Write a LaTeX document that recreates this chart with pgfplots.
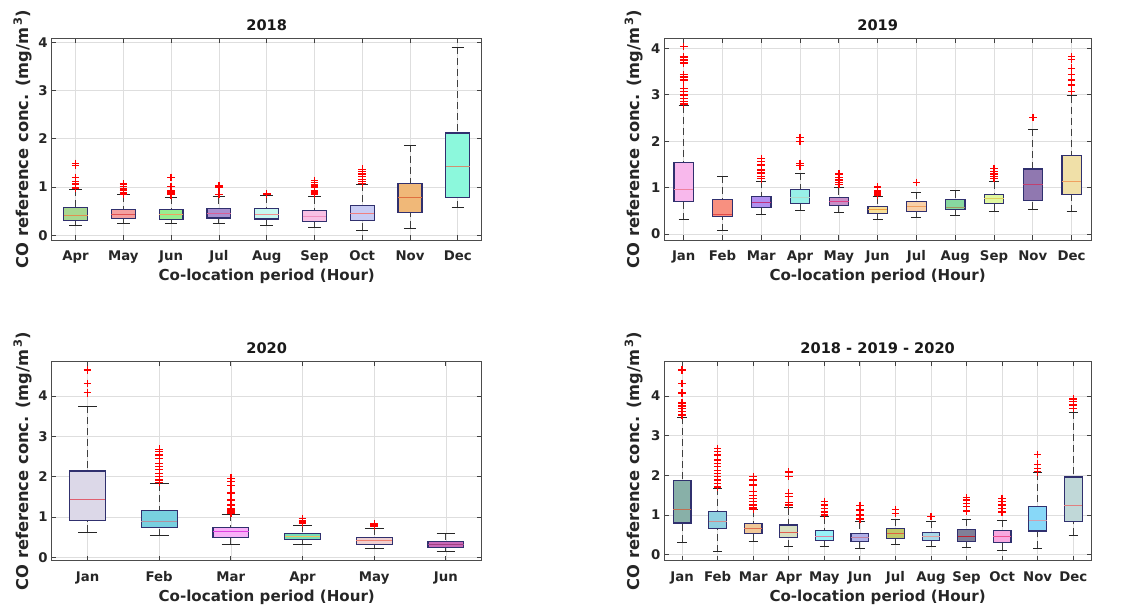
\documentclass[border=0pt]{standalone}
\usepackage{pgfplots}
\pgfplotsset{compat=1.18}
\usepgfplotslibrary{statistics}
\usepackage{fontspec}
\setmainfont{DejaVu Sans}
% 2018
\definecolor{aF1}{HTML}{A8D890}\definecolor{aM1}{HTML}{E09050}
\definecolor{aF2}{HTML}{F4A0A0}\definecolor{aM2}{HTML}{E05050}
\definecolor{aF3}{HTML}{98EC90}\definecolor{aM3}{HTML}{F0A060}
\definecolor{aF4}{HTML}{A890D0}\definecolor{aM4}{HTML}{D86098}
\definecolor{aF5}{HTML}{C8F8F0}\definecolor{aM5}{HTML}{F09090}
\definecolor{aF6}{HTML}{F8C0E4}\definecolor{aM6}{HTML}{F090C0}
\definecolor{aF7}{HTML}{C8CCF4}\definecolor{aM7}{HTML}{F08080}
\definecolor{aF8}{HTML}{F0B878}\definecolor{aM8}{HTML}{E07040}
\definecolor{aF9}{HTML}{8CF8DC}\definecolor{aM9}{HTML}{D09070}
% 2019
\definecolor{bF1}{HTML}{F8B8EC}\definecolor{bM1}{HTML}{F080A0}
\definecolor{bF2}{HTML}{F89080}\definecolor{bM2}{HTML}{E04848}
\definecolor{bF3}{HTML}{B090F0}\definecolor{bM3}{HTML}{C03080}
\definecolor{bF4}{HTML}{98F0E8}\definecolor{bM4}{HTML}{B0D8C8}
\definecolor{bF5}{HTML}{C890C8}\definecolor{bM5}{HTML}{E04088}
\definecolor{bF6}{HTML}{F8E098}\definecolor{bM6}{HTML}{F0A040}
\definecolor{bF7}{HTML}{F8D0A8}\definecolor{bM7}{HTML}{F0A060}
\definecolor{bF8}{HTML}{88D8A0}\definecolor{bM8}{HTML}{A09860}
\definecolor{bF9}{HTML}{E0F8A0}\definecolor{bM9}{HTML}{E0D060}
\definecolor{bF10}{HTML}{9078B0}\definecolor{bM10}{HTML}{C04070}
\definecolor{bF11}{HTML}{F0E0A8}\definecolor{bM11}{HTML}{F0A060}
% 2020
\definecolor{cF1}{HTML}{DCD8E8}\definecolor{cM1}{HTML}{E06070}
\definecolor{cF2}{HTML}{78D0E0}\definecolor{cM2}{HTML}{B090A0}
\definecolor{cF3}{HTML}{F8B0F8}\definecolor{cM3}{HTML}{E040E0}
\definecolor{cF4}{HTML}{78E0B8}\definecolor{cM4}{HTML}{F0C060}
\definecolor{cF5}{HTML}{F0D0D0}\definecolor{cM5}{HTML}{F08070}
\definecolor{cF6}{HTML}{C868B8}\definecolor{cM6}{HTML}{A04080}
% all
\definecolor{dF1}{HTML}{88B0A8}\definecolor{dM1}{HTML}{C07050}
\definecolor{dF2}{HTML}{90D0E0}\definecolor{dM2}{HTML}{D09090}
\definecolor{dF3}{HTML}{F0C898}\definecolor{dM3}{HTML}{E07050}
\definecolor{dF4}{HTML}{D8E0C0}\definecolor{dM4}{HTML}{E06050}
\definecolor{dF5}{HTML}{98F0F8}\definecolor{dM5}{HTML}{E080A0}
\definecolor{dF6}{HTML}{B0B0E8}\definecolor{dM6}{HTML}{C080A0}
\definecolor{dF7}{HTML}{C0C868}\definecolor{dM7}{HTML}{E06040}
\definecolor{dF8}{HTML}{A8D8E8}\definecolor{dM8}{HTML}{E0A0A0}
\definecolor{dF9}{HTML}{808098}\definecolor{dM9}{HTML}{C02030}
\definecolor{dF10}{HTML}{F8A8E0}\definecolor{dM10}{HTML}{F05090}
\definecolor{dF11}{HTML}{88D8F8}\definecolor{dM11}{HTML}{D0A0B0}
\definecolor{dF12}{HTML}{C0D8D8}\definecolor{dM12}{HTML}{E08080}
\definecolor{boxedge}{HTML}{30306E}
\definecolor{txt}{HTML}{262626}
\definecolor{wsk}{HTML}{404040}
\definecolor{outl}{HTML}{FF0000}

\pgfplotsset{
  bx/.style 2 args={
    solid, no marks,
    boxplot/draw direction=y,
    boxplot/box extend=0.5, boxplot/whisker extend=0.26,
    boxplot/every box/.style={draw=boxedge, line width=1.2bp, fill=#1, solid},
    boxplot/every median/.style={draw=#2, line width=0.9bp, solid},
    boxplot/draw/lower whisker/.code={%
      \draw[wsk, line width=0.9bp, dash pattern=on 7bp off 4bp]
        (boxplot box cs:\pgfplotsboxplotvalue{lower whisker},0.5) --
        (boxplot box cs:\pgfplotsboxplotvalue{lower quartile},0.5);
      \draw[black!85, line width=0.9bp, solid]
        (boxplot whisker cs:\pgfplotsboxplotvalue{lower whisker},0) --
        (boxplot whisker cs:\pgfplotsboxplotvalue{lower whisker},1);
    },
    boxplot/draw/upper whisker/.code={%
      \draw[wsk, line width=0.9bp, dash pattern=on 7bp off 4bp]
        (boxplot box cs:\pgfplotsboxplotvalue{upper whisker},0.5) --
        (boxplot box cs:\pgfplotsboxplotvalue{upper quartile},0.5);
      \draw[black!85, line width=0.9bp, solid]
        (boxplot whisker cs:\pgfplotsboxplotvalue{upper whisker},0) --
        (boxplot whisker cs:\pgfplotsboxplotvalue{upper whisker},1);
    },
  },
  ol/.style={only marks, mark=+, mark size=3.8bp, draw=outl, color=outl,
    mark options={draw=outl, solid, line width=1.4bp}},
  panel/.style={
    scale only axis, anchor=north west,
    /pgf/number format/assume math mode=true,
    grid=major, major grid style={draw=black!13, line width=0.7bp},
    axis line style={draw=black!70, line width=0.7bp},
    tick style={draw=black!75, line width=0.8bp}, major tick length=4.5bp,
    ytick={0,1,2,3,4},
    tick label style={font=\fontsize{13.3bp}{16bp}\selectfont\bfseries, text=txt},
    xticklabel style={anchor=base, yshift=-20.8bp},
    yticklabel style={anchor=east, xshift=-0.5bp},
    label style={text=txt},
    xlabel={Co-location period (Hour)},
    ylabel={CO reference conc. (mg/m\textsuperscript{\,3})},
    xlabel style={font=\fontsize{15.1bp}{18bp}\selectfont\bfseries,
      at={(axis description cs:0.5,0)}, anchor=base, yshift=-41bp},
    ylabel style={font=\fontsize{16.3bp}{19bp}\selectfont\bfseries,
      at={(axis description cs:0,0.5)}, anchor=base, yshift=23.5bp},
    every axis title shift=0pt,
    title style={font=\fontsize{14.6bp}{18bp}\selectfont\bfseries, text=black!90,
      at={(axis description cs:0.5,1)}, anchor=base, yshift=7.8bp},
  },
}

\begin{document}
\begin{tikzpicture}
\path[use as bounding box] (0,0) rectangle (1142bp,610bp);

% ---------------- 2018 ----------------
\begin{axis}[panel, at={(51.7bp,571.7bp)}, width=430bp, height=201.7bp,
  title={2018}, xmin=0.5, xmax=9.5, ymin=-0.097, ymax=4.083,
  xtick={1,...,9}, xticklabels={Apr,May,Jun,Jul,Aug,Sep,Oct,Nov,Dec}]
\addplot[bx={aF1}{aM1}, boxplot prepared={draw position=1, lower whisker=0.20, lower quartile=0.30, median=0.41, upper quartile=0.58, upper whisker=0.95}] coordinates {};
\addplot[bx={aF2}{aM2}, boxplot prepared={draw position=2, lower whisker=0.24, lower quartile=0.35, median=0.44, upper quartile=0.54, upper whisker=0.84}] coordinates {};
\addplot[bx={aF3}{aM3}, boxplot prepared={draw position=3, lower whisker=0.25, lower quartile=0.33, median=0.43, upper quartile=0.53, upper whisker=0.79}] coordinates {};
\addplot[bx={aF4}{aM4}, boxplot prepared={draw position=4, lower whisker=0.25, lower quartile=0.36, median=0.46, upper quartile=0.55, upper whisker=0.80}] coordinates {};
\addplot[bx={aF5}{aM5}, boxplot prepared={draw position=5, lower whisker=0.21, lower quartile=0.34, median=0.44, upper quartile=0.55, upper whisker=0.82}] coordinates {};
\addplot[bx={aF6}{aM6}, boxplot prepared={draw position=6, lower whisker=0.17, lower quartile=0.29, median=0.40, upper quartile=0.51, upper whisker=0.80}] coordinates {};
\addplot[bx={aF7}{aM7}, boxplot prepared={draw position=7, lower whisker=0.10, lower quartile=0.30, median=0.46, upper quartile=0.61, upper whisker=1.06}] coordinates {};
\addplot[bx={aF8}{aM8}, boxplot prepared={draw position=8, lower whisker=0.15, lower quartile=0.48, median=0.78, upper quartile=1.08, upper whisker=1.87}] coordinates {};
\addplot[bx={aF9}{aM9}, boxplot prepared={draw position=9, lower whisker=0.57, lower quartile=0.79, median=1.43, upper quartile=2.12, upper whisker=3.90}] coordinates {};
\addplot[ol] coordinates {
 (1,1.49) (1,1.45) (1,1.20) (1,1.12) (1,1.08) (1,1.05) (1,0.98)
 (2,1.06) (2,1.01) (2,0.96) (2,0.93) (2,0.89) (2,0.86)
 (3,1.20) (3,1.01) (3,0.92) (3,0.88) (3,0.84)
 (4,1.02) (4,0.99) (4,0.85)
 (5,0.87) (5,0.85)
 (6,1.14) (6,1.09) (6,1.04) (6,1.00) (6,0.92) (6,0.88) (6,0.85)
 (7,1.37) (7,1.32) (7,1.27) (7,1.22) (7,1.16) (7,1.12) (7,1.08)
};
\end{axis}

% ---------------- 2019 ----------------
\begin{axis}[panel, at={(664.3bp,571.7bp)}, width=426.7bp, height=201.7bp,
  title={2019}, xmin=0.5, xmax=11.5, ymin=-0.129, ymax=4.215,
  ylabel style={yshift=1.5bp},
  xtick={1,...,11}, xticklabels={Jan,Feb,Mar,Apr,May,Jun,Jul,Aug,Sep,Nov,Dec}]
\addplot[bx={bF1}{bM1}, boxplot prepared={draw position=1, lower whisker=0.31, lower quartile=0.70, median=0.96, upper quartile=1.54, upper whisker=2.76}] coordinates {};
\addplot[bx={bF2}{bM2}, boxplot prepared={draw position=2, lower whisker=0.07, lower quartile=0.37, median=0.42, upper quartile=0.75, upper whisker=1.24}] coordinates {};
\addplot[bx={bF3}{bM3}, boxplot prepared={draw position=3, lower whisker=0.42, lower quartile=0.57, median=0.69, upper quartile=0.80, upper whisker=1.14}] coordinates {};
\addplot[bx={bF4}{bM4}, boxplot prepared={draw position=4, lower whisker=0.50, lower quartile=0.66, median=0.79, upper quartile=0.96, upper whisker=1.31}] coordinates {};
\addplot[bx={bF5}{bM5}, boxplot prepared={draw position=5, lower whisker=0.47, lower quartile=0.62, median=0.70, upper quartile=0.79, upper whisker=1.00}] coordinates {};
\addplot[bx={bF6}{bM6}, boxplot prepared={draw position=6, lower whisker=0.32, lower quartile=0.44, median=0.52, upper quartile=0.59, upper whisker=0.80}] coordinates {};
\addplot[bx={bF7}{bM7}, boxplot prepared={draw position=7, lower whisker=0.36, lower quartile=0.48, median=0.60, upper quartile=0.70, upper whisker=0.90}] coordinates {};
\addplot[bx={bF8}{bM8}, boxplot prepared={draw position=8, lower whisker=0.41, lower quartile=0.52, median=0.57, upper quartile=0.74, upper whisker=0.93}] coordinates {};
\addplot[bx={bF9}{bM9}, boxplot prepared={draw position=9, lower whisker=0.49, lower quartile=0.66, median=0.76, upper quartile=0.85, upper whisker=1.13}] coordinates {};
\addplot[bx={bF10}{bM10}, boxplot prepared={draw position=10, lower whisker=0.53, lower quartile=0.73, median=1.07, upper quartile=1.40, upper whisker=2.26}] coordinates {};
\addplot[bx={bF11}{bM11}, boxplot prepared={draw position=11, lower whisker=0.48, lower quartile=0.85, median=1.13, upper quartile=1.69, upper whisker=2.98}] coordinates {};
\addplot[ol] coordinates {
 (1,4.04) (1,3.81) (1,3.75) (1,3.68) (1,3.43) (1,3.38) (1,3.32) (1,3.14) (1,3.07) (1,2.99) (1,2.92) (1,2.85) (1,2.80)
 (3,1.63) (3,1.56) (3,1.49) (3,1.38) (3,1.31) (3,1.24) (3,1.19)
 (4,2.08) (4,1.99) (4,1.52) (4,1.47)
 (5,1.29) (5,1.22) (5,1.16) (5,1.11) (5,1.07)
 (6,1.01) (6,0.93) (6,0.88) (6,0.84)
 (7,1.11)
 (9,1.41) (9,1.34) (9,1.29) (9,1.24) (9,1.20)
 (10,2.51)
 (11,3.82) (11,3.76) (11,3.57) (11,3.43) (11,3.32) (11,3.21) (11,3.07)
};
\end{axis}

% ---------------- 2020 ----------------
\begin{axis}[panel, at={(51.7bp,248.3bp)}, width=430bp, height=199bp,
  title={2020}, xmin=0.5, xmax=6.5, ymin=-0.084, ymax=4.85,
  xtick={1,...,6}, xticklabels={Jan,Feb,Mar,Apr,May,Jun}]
\addplot[bx={cF1}{cM1}, boxplot prepared={draw position=1, lower whisker=0.62, lower quartile=0.91, median=1.44, upper quartile=2.14, upper whisker=3.75}] coordinates {};
\addplot[bx={cF2}{cM2}, boxplot prepared={draw position=2, lower whisker=0.54, lower quartile=0.74, median=0.88, upper quartile=1.17, upper whisker=1.82}] coordinates {};
\addplot[bx={cF3}{cM3}, boxplot prepared={draw position=3, lower whisker=0.33, lower quartile=0.50, median=0.63, upper quartile=0.74, upper whisker=1.07}] coordinates {};
\addplot[bx={cF4}{cM4}, boxplot prepared={draw position=4, lower whisker=0.33, lower quartile=0.45, median=0.52, upper quartile=0.60, upper whisker=0.80}] coordinates {};
\addplot[bx={cF5}{cM5}, boxplot prepared={draw position=5, lower whisker=0.22, lower quartile=0.32, median=0.41, upper quartile=0.49, upper whisker=0.72}] coordinates {};
\addplot[bx={cF6}{cM6}, boxplot prepared={draw position=6, lower whisker=0.14, lower quartile=0.24, median=0.31, upper quartile=0.40, upper whisker=0.60}] coordinates {};
\addplot[ol] coordinates {
 (1,4.64) (1,4.31) (1,4.08)
 (2,2.68) (2,2.62) (2,2.54) (2,2.45) (2,2.33) (2,2.25) (2,2.17) (2,2.08) (2,2.00) (2,1.92) (2,1.86)
 (3,1.96) (3,1.88) (3,1.78) (3,1.59) (3,1.42) (3,1.30) (3,1.21) (3,1.17) (3,1.13) (3,1.10)
 (4,0.96) (4,0.92) (4,0.88) (4,0.84)
 (5,0.84) (5,0.80) (5,0.76)
};
\end{axis}

% ---------------- 2018-2019-2020 ----------------
\begin{axis}[panel, at={(664.3bp,248.3bp)}, width=426.7bp, height=199bp,
  title={2018 - 2019 - 2020}, xmin=0.5, xmax=12.5, ymin=-0.151, ymax=4.865,
  ylabel style={yshift=1.5bp},
  xtick={1,...,12}, xticklabels={Jan,Feb,Mar,Apr,May,Jun,Jul,Aug,Sep,Oct,Nov,Dec}]
\addplot[bx={dF1}{dM1}, boxplot prepared={draw position=1, lower whisker=0.32, lower quartile=0.80, median=1.13, upper quartile=1.87, upper whisker=3.46}] coordinates {};
\addplot[bx={dF2}{dM2}, boxplot prepared={draw position=2, lower whisker=0.08, lower quartile=0.67, median=0.83, upper quartile=1.09, upper whisker=1.67}] coordinates {};
\addplot[bx={dF3}{dM3}, boxplot prepared={draw position=3, lower whisker=0.34, lower quartile=0.54, median=0.66, upper quartile=0.78, upper whisker=1.13}] coordinates {};
\addplot[bx={dF4}{dM4}, boxplot prepared={draw position=4, lower whisker=0.20, lower quartile=0.44, median=0.57, upper quartile=0.75, upper whisker=1.19}] coordinates {};
\addplot[bx={dF5}{dM5}, boxplot prepared={draw position=5, lower whisker=0.22, lower quartile=0.35, median=0.46, upper quartile=0.62, upper whisker=0.96}] coordinates {};
\addplot[bx={dF6}{dM6}, boxplot prepared={draw position=6, lower whisker=0.15, lower quartile=0.34, median=0.44, upper quartile=0.54, upper whisker=0.83}] coordinates {};
\addplot[bx={dF7}{dM7}, boxplot prepared={draw position=7, lower whisker=0.26, lower quartile=0.41, median=0.53, upper quartile=0.66, upper whisker=0.90}] coordinates {};
\addplot[bx={dF8}{dM8}, boxplot prepared={draw position=8, lower whisker=0.21, lower quartile=0.36, median=0.46, upper quartile=0.56, upper whisker=0.85}] coordinates {};
\addplot[bx={dF9}{dM9}, boxplot prepared={draw position=9, lower whisker=0.18, lower quartile=0.33, median=0.46, upper quartile=0.64, upper whisker=0.90}] coordinates {};
\addplot[bx={dF10}{dM10}, boxplot prepared={draw position=10, lower whisker=0.12, lower quartile=0.30, median=0.46, upper quartile=0.61, upper whisker=0.87}] coordinates {};
\addplot[bx={dF11}{dM11}, boxplot prepared={draw position=11, lower whisker=0.16, lower quartile=0.60, median=0.87, upper quartile=1.21, upper whisker=2.07}] coordinates {};
\addplot[bx={dF12}{dM12}, boxplot prepared={draw position=12, lower whisker=0.49, lower quartile=0.83, median=1.23, upper quartile=1.96, upper whisker=3.59}] coordinates {};
\addplot[ol] coordinates {
 (1,4.66) (1,4.32) (1,4.08) (1,3.82) (1,3.75) (1,3.69) (1,3.61) (1,3.52)
 (2,2.68) (2,2.60) (2,2.51) (2,2.39) (2,2.30) (2,2.22) (2,2.13) (2,2.05) (2,1.97) (2,1.88) (2,1.80) (2,1.71)
 (3,1.97) (3,1.88) (3,1.76) (3,1.59) (3,1.50) (3,1.42) (3,1.34) (3,1.25) (3,1.19) (3,1.15)
 (4,2.08) (4,1.97) (4,1.55) (4,1.46) (4,1.31) (4,1.25)
 (5,1.34) (5,1.25) (5,1.17) (5,1.08) (5,1.00)
 (6,1.24) (6,1.13) (6,1.00) (6,0.90)
 (7,1.14) (7,1.04)
 (8,0.96)
 (9,1.44) (9,1.38) (9,1.29) (9,1.21) (9,1.10)
 (10,1.42) (10,1.34) (10,1.25) (10,1.17) (10,1.08)
 (11,2.53) (11,2.28) (11,2.18) (11,2.09)
 (12,3.92) (12,3.86) (12,3.77) (12,3.69)
};
\end{axis}
\end{tikzpicture}
\end{document}
